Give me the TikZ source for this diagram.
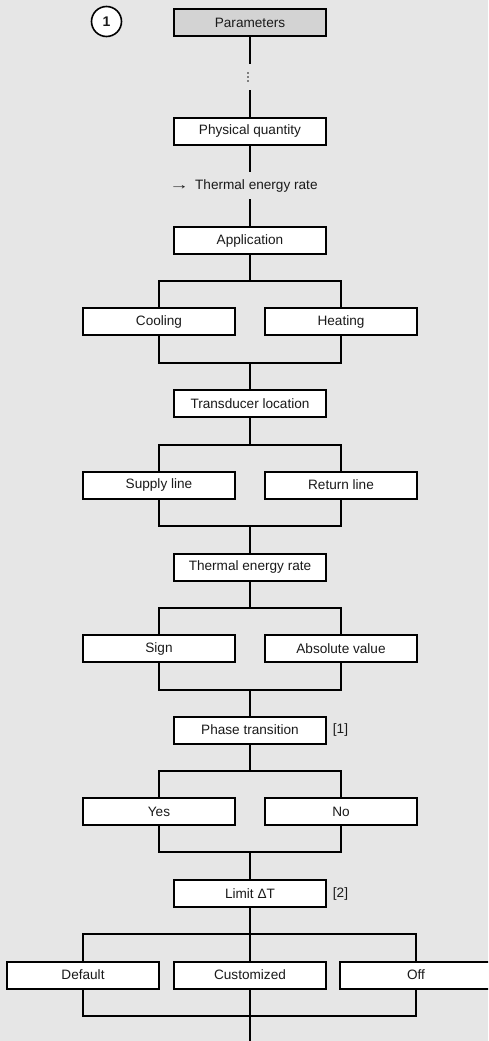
\documentclass[tikz,border=0pt]{standalone}
\usepackage{fontspec}
\usepackage{graphicx}
\setmainfont{Liberation Sans}
\definecolor{bg}{HTML}{E6E6E6}
\definecolor{parfill}{HTML}{D3D3D3}
\definecolor{txt}{HTML}{1A1A1A}
\definecolor{dotgray}{HTML}{7F7F7F}
\begin{document}
\begin{tikzpicture}[x=1pt,y=-1pt,
  every node/.style={font=\fontsize{13.6}{16}\selectfont, text=txt},
  box/.style={draw=black, line width=2pt, fill=white, minimum width=152pt, minimum height=27pt, inner sep=0pt},
  conn/.style={draw=black, line width=2pt, line join=miter},
  tag/.style={inner sep=0pt}
]
\fill[bg] (0,0) rectangle (488,1041);
\useasboundingbox (0,0) rectangle (488,1041);
\clip (0,0) rectangle (488,1041);

% header
\node[draw=black, line width=1.6pt, fill=white, circle, minimum size=30pt, inner sep=0pt, font=\fontsize{14}{16}\selectfont\bfseries] (num) at (106.5,21.5) {1};
\node[box, fill=parfill] (par) at (250,22.5) {Parameters};
\node[inner sep=0pt, minimum width=4pt, minimum height=26pt] (dots) at (250,77) {};
\foreach \yy in {72.7,76.7,80.7}
  \fill[dotgray] (247,\yy-1) rectangle ++(2,2);
\node[box] (phys) at (250,131) {Physical quantity};
\node[inner sep=0pt, minimum height=27pt] (tr) at (243.5,185.5) {\scalebox{1.45}[1]{→}\hspace{6pt}Thermal energy rate};
\node[box] (app) at (250,240.5) {Application};

\draw[conn] (par.south) -- (dots.north);
\draw[conn] (dots.south) -- (phys.north);
\draw[conn] (phys.south) -- (phys.south |- tr.north);
\draw[conn] (app.north |- tr.south) -- (app.north);

% stage 1: Application
\coordinate (a1) at (250,281);
\coordinate (b1) at (250,362.5);
\node[box] (cool) at (159,321.5) {Cooling};
\node[box] (heat) at (341,321.5) {Heating};
\node[box] (trans) at (250,403.75) {Transducer location};
\draw[conn] (app.south) -- (a1);
\draw[conn] (cool.north) -- (cool.north |- a1) -- (heat.north |- a1) -- (heat.north);
\draw[conn] (cool.south) -- (cool.south |- b1) -- (heat.south |- b1) -- (heat.south);
\draw[conn] (b1) -- (trans.north);

% stage 2: Transducer location
\coordinate (a2) at (250,444.5);
\coordinate (b2) at (250,526);
\node[box] (sup) at (159,485) {Supply line};
\node[box] (ret) at (341,485) {Return line};
\node[box] (ther) at (250,567) {Thermal energy rate};
\draw[conn] (trans.south) -- (a2);
\draw[conn] (sup.north) -- (sup.north |- a2) -- (ret.north |- a2) -- (ret.north);
\draw[conn] (sup.south) -- (sup.south |- b2) -- (ret.south |- b2) -- (ret.south);
\draw[conn] (b2) -- (ther.north);

% stage 3: Thermal energy rate
\coordinate (a3) at (250,608);
\coordinate (b3) at (250,689.5);
\node[box] (sign) at (159,648.5) {Sign};
\node[box] (abs) at (341,648.5) {Absolute value};
\node[box] (phase) at (250,730) {Phase transition};
\node[tag] (t1) at (340.5,730) {[1]};
\draw[conn] (ther.south) -- (a3);
\draw[conn] (sign.north) -- (sign.north |- a3) -- (abs.north |- a3) -- (abs.north);
\draw[conn] (sign.south) -- (sign.south |- b3) -- (abs.south |- b3) -- (abs.south);
\draw[conn] (b3) -- (phase.north);

% stage 4: Phase transition
\coordinate (a4) at (250,771);
\coordinate (b4) at (250,852);
\node[box] (yes) at (159,811.5) {Yes};
\node[box] (no) at (341,811.5) {No};
\node[box] (lim) at (250,893.5) {Limit ΔT};
\node[tag] (t2) at (340.5,893.5) {[2]};
\draw[conn] (phase.south) -- (a4);
\draw[conn] (yes.north) -- (yes.north |- a4) -- (no.north |- a4) -- (no.north);
\draw[conn] (yes.south) -- (yes.south |- b4) -- (no.south |- b4) -- (no.south);
\draw[conn] (b4) -- (lim.north);

% stage 5: Limit
\coordinate (a5) at (250,934);
\coordinate (b5) at (250,1016);
\coordinate (end) at (250,1045);
\node[box] (def) at (83,975) {Default};
\node[box] (cust) at (250,975) {Customized};
\node[box] (off) at (416,975) {Off};
\draw[conn] (lim.south) -- (a5);
\draw[conn] (def.north) -- (def.north |- a5) -- (off.north |- a5) -- (off.north);
\draw[conn] (a5) -- (cust.north);
\draw[conn] (def.south) -- (def.south |- b5) -- (off.south |- b5) -- (off.south);
\draw[conn] (cust.south) -- (b5) -- (end);
\end{tikzpicture}
\end{document}
